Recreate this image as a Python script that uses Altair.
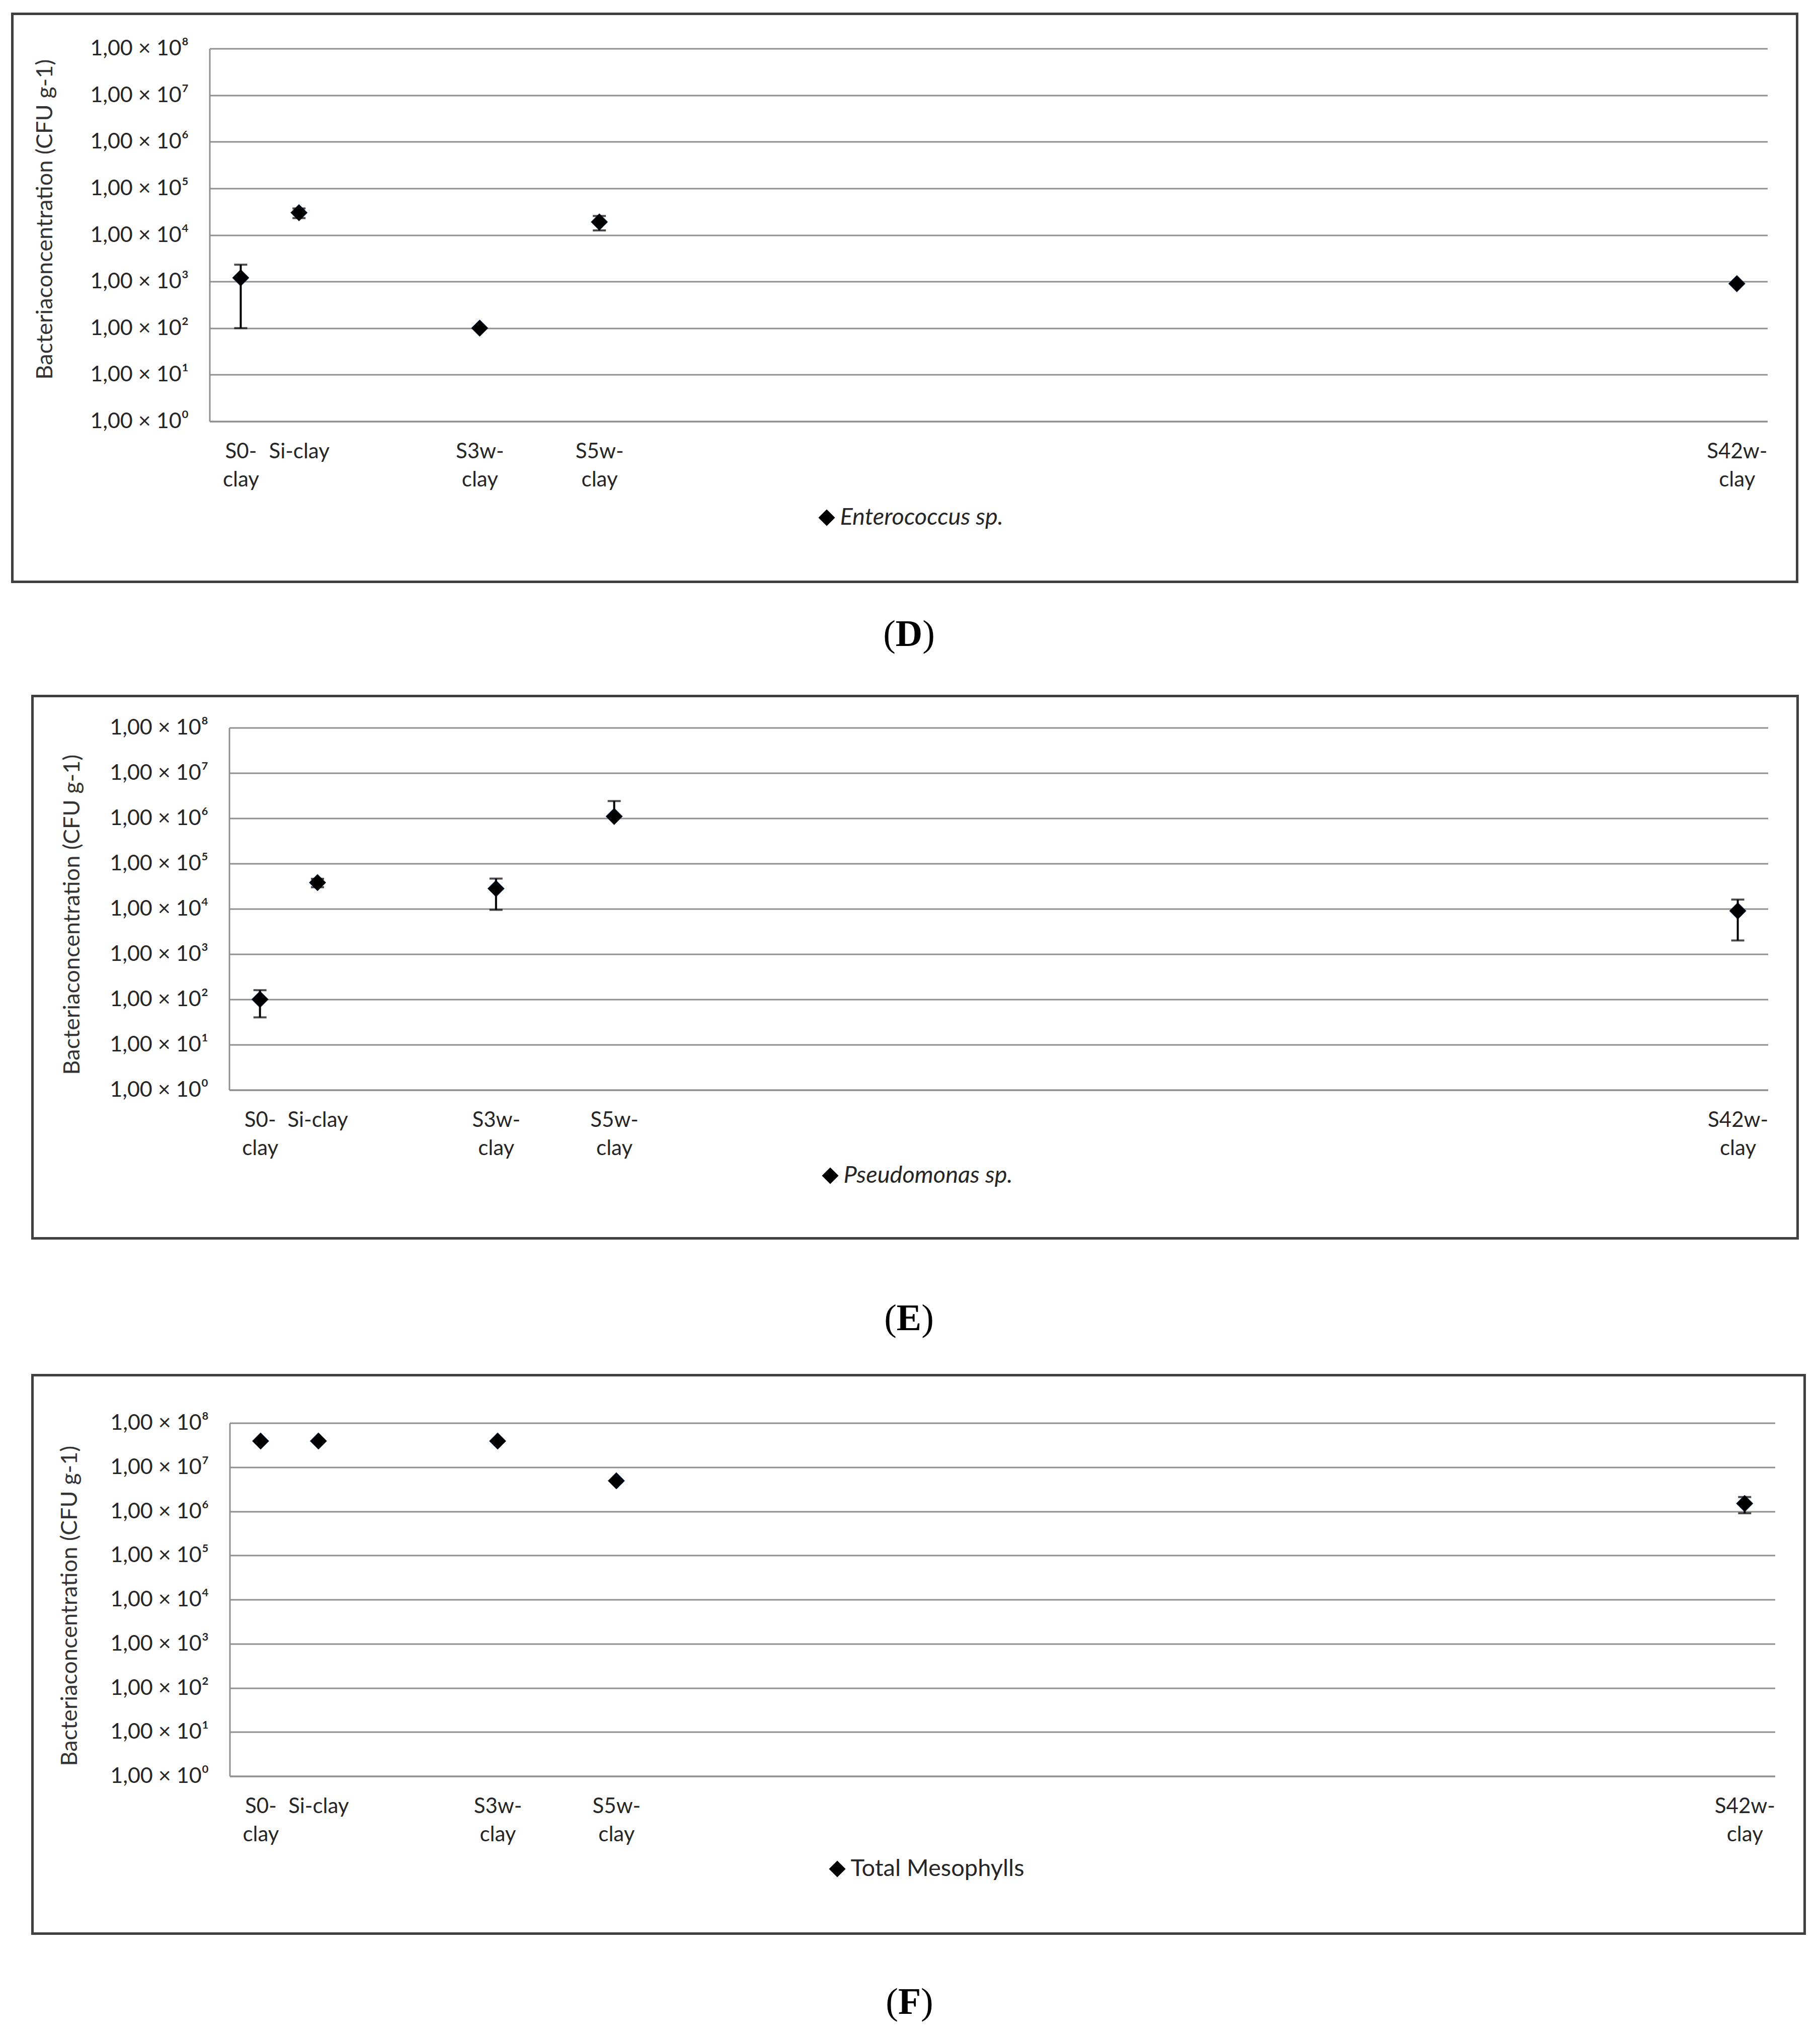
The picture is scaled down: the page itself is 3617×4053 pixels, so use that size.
import altair as alt
import pandas as pd

# ---------------- data ----------------
samples = ["S0-clay", "Si-clay", "S3w-clay", "S5w-clay", "S42w-clay"]
# where each sample sits along the (unlabelled) x axis, in % of the axis length
sample_axis_pos = [2.0, 5.74, 17.34, 25.02, 98.04]
sample_label_lines = [["S0-", "clay"], ["Si-clay"], ["S3w-", "clay"], ["S5w-", "clay"], ["S42w-", "clay"]]

entero_mean = [1200, 30000, 100, 19000, 900]
entero_err = [1100, 7000, 0, 6500, 0]

pseudo_mean = [100, 38000, 28000, 1100000, 9000]
pseudo_err = [60, 8000, 18500, 1300000, 7000]

meso_mean = [39000000, 39000000, 39000000, 4900000, 1500000]
meso_err = [0, 0, 0, 0, 600000]

y_ticks = [1, 10, 100, 1000, 10000, 100000, 1000000, 10000000, 100000000]
superscripts = ["⁰", "¹", "²", "³", "⁴", "⁵", "⁶", "⁷", "⁸"]

Y_TITLE = "Bacteriaconcentration (CFU g-1)"

# ---------------- style ----------------
FONT = "Lato"
SERIF = "Liberation Serif"
TXT = "#262626"
GRID = "#8f8f8f"
FRAME = "#404040"

panels = [
    dict(letter="D", series="Enterococcus sp.", italic=True, mean=entero_mean, err=entero_err,
         w=3096, h=741, view_w=3152, frame=(-392, 3155, -69, 1060), title_xy=(-327, 339),
         legend_xy=(1203, 909), cap=(1390, 1187), letter_w=0.722),
    dict(letter="E", series="Pseudomonas sp.", italic=True, mean=pseudo_mean, err=pseudo_err,
         w=3058, h=720, view_w=3074, frame=(-391, 3117, -63, 1015), title_xy=(-312, 371),
         legend_xy=(1171, 867), cap=(1351, 1197), letter_w=0.667),
    dict(letter="F", series="Total Mesophylls", italic=False, mean=meso_mean, err=meso_err,
         w=3071, h=702, view_w=3072, frame=(-392, 3130, -95, 1015), title_xy=(-318, 363),
         legend_xy=(1184, 863), cap=(1351, 1174), letter_w=0.611),
]

CAP_SIZE = 74

x_label_expr = "".join(
    "abs(datum.value - %s) < 0.01 ? [%s] : " % (p, ",".join("'%s'" % s for s in lines))
    for p, lines in zip(sample_axis_pos, sample_label_lines)
) + "''"
y_label_expr = "'1,00 × 10' + [%s][round(log(datum.value) / LN10)]" % ",".join("'%s'" % s for s in superscripts)

one = pd.DataFrame({"k": [0]})


def make_panel(p):
    df = pd.DataFrame({
        "sample": samples,
        "pos": sample_axis_pos,
        "value": p["mean"],
        "err": p["err"],
        "series": p["series"],
    })
    df["low"] = df["value"] - df["err"]
    df["high"] = df["value"] + df["err"]
    eb = df[df["err"] > 0].copy()
    eb["rule_low"] = eb["low"].where(eb["low"] > 0, eb["value"])
    lowcap = eb[eb["low"] > 0]

    xs = alt.Scale(domain=[0, 100], range=[0, p["w"]], nice=False, zero=False)
    ys = alt.Scale(type="log", domain=[1, 100000000], nice=False)

    tx, ty = p["title_xy"]
    lx, ly = p["legend_xy"]

    xaxis = alt.Axis(
        values=sample_axis_pos, labelExpr=x_label_expr, grid=False, ticks=False,
        domainColor=GRID, domainWidth=3, labelFont=FONT, labelFontSize=42, labelColor=TXT,
        labelPadding=40, labelLineHeight=56, labelBaseline="top", labelAlign="center",
        labelOverlap=False, labelFlush=False, labelLimit=0, title=None)
    yaxis = alt.Axis(
        values=y_ticks, labelExpr=y_label_expr, grid=True, gridColor=GRID, gridWidth=3,
        domainColor=GRID, domainWidth=3, ticks=False, labelFont=FONT, labelFontSize=43,
        labelColor=TXT, labelPadding=42, labelBaseline="middle", labelLimit=0,
        labelOverlap=False,
        title=Y_TITLE, titleFont=FONT, titleFontSize=45, titleFontWeight="normal",
        titleColor="#333333", titleX=tx, titleY=ty, titleAngle=270, titleLimit=0,
        titleAlign="center", titleBaseline="middle")

    X = lambda f: alt.X(f, scale=xs, axis=xaxis)
    Y = lambda f: alt.Y(f, scale=ys, axis=yaxis)

    fx1, fx2, fy1, fy2 = p["frame"]
    frame = alt.Chart(one).mark_rect(fillOpacity=0, stroke=FRAME, strokeWidth=5).encode(
        x=alt.value(fx1), x2=alt.value(fx2), y=alt.value(fy1), y2=alt.value(fy2)
    )

    points = alt.Chart(df).mark_point(
        shape="diamond", filled=True, size=1100, opacity=1, stroke="#1f3b66", strokeWidth=1
    ).encode(
        x=X("pos:Q"),
        y=Y("value:Q"),
        color=alt.Color("series:N", scale=alt.Scale(range=["#000000"]), legend=alt.Legend(
            title=None, orient="none", legendX=lx, legendY=ly, symbolType="diamond",
            symbolSize=1100, symbolStrokeWidth=0, labelFont=FONT, labelFontSize=47,
            labelFontStyle="italic" if p["italic"] else "normal", labelColor=TXT,
            labelOffset=3, padding=0, labelLimit=0)),
    )

    rules = alt.Chart(eb).mark_rule(color="black", strokeWidth=4).encode(
        x=X("pos:Q"), y=Y("rule_low:Q"), y2="high:Q",
    )
    top_caps = alt.Chart(eb).mark_tick(color="black", orient="horizontal", size=26, thickness=4).encode(
        x=X("pos:Q"), y=Y("high:Q"),
    )
    low_caps = alt.Chart(lowcap).mark_tick(color="black", orient="horizontal", size=26, thickness=4).encode(
        x=X("pos:Q"), y=Y("low:Q"),
    )

    cx, cy = p["cap"]
    half = p["letter_w"] * CAP_SIZE / 2
    cap_l = alt.Chart(one).mark_text(text="(", font=SERIF, fontSize=CAP_SIZE, align="right",
                                     baseline="alphabetic", color="black").encode(
        x=alt.value(cx - half), y=alt.value(cy))
    cap_m = alt.Chart(one).mark_text(text=p["letter"], font=SERIF, fontSize=CAP_SIZE, fontWeight="bold",
                                     align="center", baseline="alphabetic", color="black").encode(
        x=alt.value(cx), y=alt.value(cy))
    cap_r = alt.Chart(one).mark_text(text=")", font=SERIF, fontSize=CAP_SIZE, align="left",
                                     baseline="alphabetic", color="black").encode(
        x=alt.value(cx + half), y=alt.value(cy))

    return alt.layer(points, frame, rules, top_caps, low_caps, cap_l, cap_m, cap_r).properties(
        width=p["view_w"], height=p["h"]
    )


def spacer(h):
    return alt.Chart(one).mark_point(opacity=0).encode(
        x=alt.value(0), y=alt.value(0)
    ).properties(width=10, height=h)


chart = alt.vconcat(
    make_panel(panels[0]),
    spacer(609),
    make_panel(panels[1]),
    spacer(662),
    make_panel(panels[2]),
    spacing=0,
    bounds="flush",
    center=True,
).resolve_scale(color="independent").resolve_legend(color="independent").configure_view(
    stroke=None
).properties(
    padding={"left": 13.5, "top": 16.5, "right": 5, "bottom": 5},
    background="white",
)

chart.save("out.html", embed_options={"renderer": "svg", "actions": False})
